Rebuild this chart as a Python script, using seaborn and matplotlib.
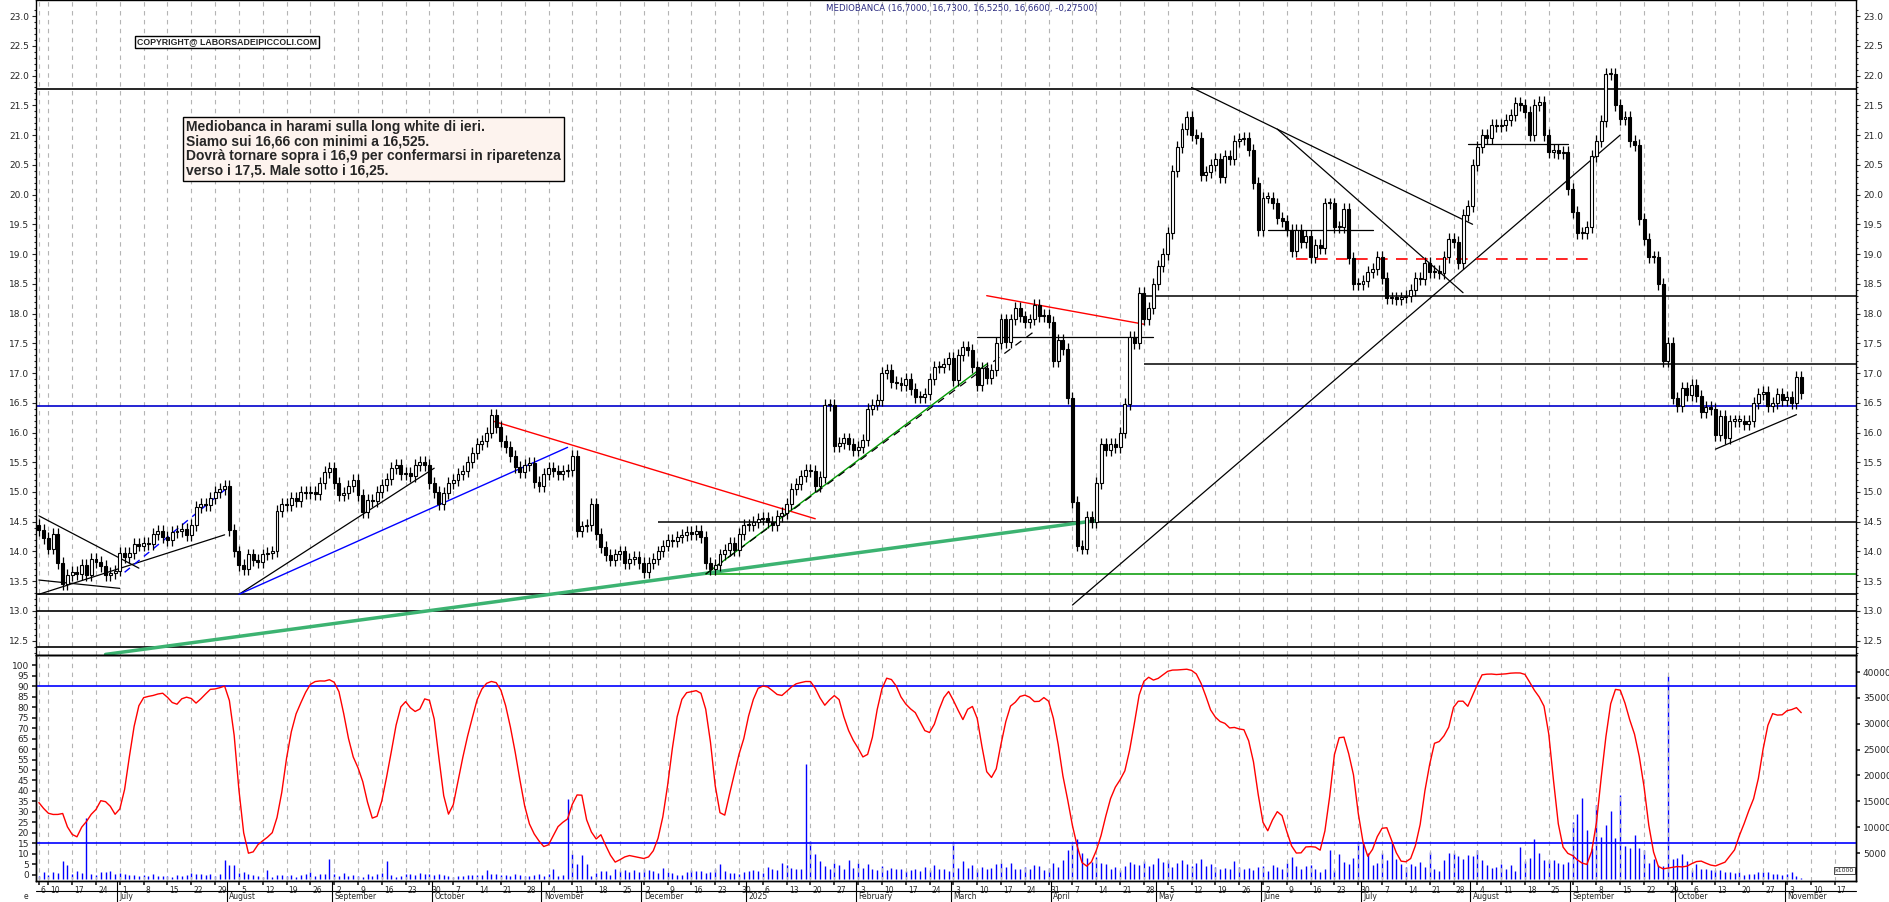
import numpy as np
import pandas as pd
import matplotlib
matplotlib.use("Agg")
import matplotlib.pyplot as plt
import matplotlib.transforms as mtrans
import seaborn as sns

sns.set_theme(style="white")
plt.rcParams["font.family"] = ["DejaVu Sans"]

# ---------------- data ----------------
start_date = "2024-06-06"
axis_end_date = "2025-11-21"

closes_2024 = [
    14.36,14.22,14.05,14.3,13.8,13.45,13.6,13.65,13.62,13.77,13.6,13.87,13.82,13.75,13.6,13.64,13.68,
    13.97,13.9,13.97,14.12,14.1,14.15,14.13,14.3,14.35,14.25,14.2,14.33,14.35,14.38,14.27,14.44,14.75,14.8,14.78,14.9,15.0,15.05,15.1,
    14.36,14.0,13.78,13.7,13.95,13.85,13.82,13.95,13.98,14.0,14.68,14.8,14.78,14.9,14.85,15.0,14.98,15.0,14.97,15.15,15.33,15.4,
    15.15,14.95,14.98,15.1,15.2,14.95,14.67,14.87,14.85,15.0,15.12,15.22,15.4,15.45,15.3,15.32,15.27,15.45,15.5,15.45,15.15,
    15.0,14.8,14.98,15.15,15.2,15.3,15.35,15.5,15.65,15.8,15.85,16.0,16.3,16.1,15.85,15.76,15.6,15.42,15.33,15.45,15.48,15.17,15.1,
    15.3,15.4,15.35,15.3,15.35,15.37,15.6,14.35,14.42,14.45,14.8,14.3,14.08,13.94,13.85,13.95,14.0,13.8,13.88,13.9,13.8,
    13.65,13.8,13.88,14.0,14.1,14.2,14.18,14.25,14.28,14.32,14.3,14.35,14.25,13.8,13.7,13.78,13.95,14.02,14.15,14.03,14.3,14.45,
]
closes_2025 = [
    14.45,14.5,14.55,14.57,14.5,14.45,14.6,14.65,14.8,15.05,15.14,15.27,15.37,15.35,15.1,15.25,16.46,16.47,15.77,15.82,15.9,15.8,15.7,
    15.75,15.87,16.4,16.47,16.55,17.0,17.05,16.85,16.83,16.8,16.9,16.73,16.6,16.6,16.65,16.9,17.1,17.1,17.15,17.25,
    16.88,17.3,17.43,17.38,17.1,16.8,17.08,16.92,17.05,17.5,17.9,17.52,17.9,18.1,17.95,17.85,17.9,18.15,17.95,17.97,17.85,
    17.2,17.55,17.4,16.58,14.83,14.1,14.05,14.58,14.5,15.15,15.8,15.7,15.8,15.75,16.0,16.48,17.6,17.5,18.35,17.9,18.1,18.5,
    18.8,19.0,19.35,20.4,20.8,21.1,21.3,21.0,20.95,20.33,20.38,20.5,20.6,20.3,20.65,20.6,20.9,20.93,20.95,20.75,20.2,19.4,
    19.95,19.95,19.85,19.6,19.55,19.4,19.05,19.4,19.2,19.3,18.95,19.15,19.1,19.85,19.85,19.45,19.45,19.75,18.93,18.5,18.5,
    18.55,18.7,18.75,18.95,18.6,18.26,18.26,18.25,18.27,18.3,18.4,18.6,18.58,18.85,18.7,18.72,18.68,18.95,19.25,19.2,18.85,19.65,19.8,
    20.5,20.8,21.0,20.95,21.17,21.15,21.17,21.25,21.33,21.54,21.5,21.38,21.0,21.5,21.55,21.0,20.72,20.75,20.7,20.72,20.1,
    19.7,19.35,19.35,19.45,20.65,20.9,21.24,22.02,22.02,21.5,21.27,21.3,20.9,20.83,19.59,19.25,18.95,18.95,18.5,17.2,17.5,16.58,
    16.45,16.75,16.63,16.8,16.62,16.35,16.43,16.4,15.95,16.28,15.9,16.2,16.2,16.2,16.15,16.2,16.5,16.65,16.68,16.45,16.5,16.65,16.55,
    16.6,16.5,16.93,16.66,
]
first_open = 14.45
wick = 0.1

volume_k = [
    0.6,1.4,0.7,1.4,1.2,3.5,2.7,1.0,1.5,1.1,11.8,0.9,0.8,1.4,1.3,1.5,1.0,
    1.1,0.9,0.7,0.8,0.6,0.7,0.5,0.9,0.6,0.5,0.5,0.4,0.7,0.6,0.8,1.2,0.9,1.0,0.8,0.9,0.5,1.0,3.6,
    2.6,2.7,1.2,1.3,0.9,0.8,0.5,0.4,1.8,0.4,0.7,0.8,0.6,0.8,0.3,0.7,0.9,1.4,0.6,0.9,1.0,3.9,
    1.0,0.6,1.2,0.6,0.8,0.5,0.4,0.9,0.6,0.9,1.1,3.4,0.8,0.4,0.6,0.9,1.0,0.8,1.1,1.0,0.9,
    0.8,0.9,0.7,0.5,0.4,0.6,0.5,0.8,0.8,0.7,0.8,1.8,1.0,0.9,0.8,0.8,0.6,0.9,0.8,0.6,0.5,0.8,0.9,
    0.6,0.9,2.0,0.6,0.7,15.4,4.9,2.9,4.7,2.9,0.5,1.2,1.6,1.6,0.8,1.9,1.5,1.8,1.4,1.7,1.3,
    1.9,1.7,1.6,1.2,2.1,1.4,1.1,0.8,0.8,1.4,1.8,1.6,1.6,1.1,1.3,2.0,2.8,1.5,1.2,1.1,0.9,1.4,
    1.6,1.8,1.5,1.2,2.3,2.0,1.8,3.0,2.6,2.2,1.9,2.0,22.3,7.3,4.9,3.5,2.5,2.0,3.0,2.6,2.0,3.6,2.2,
    3.0,2.2,2.8,2.0,1.8,2.5,1.7,2.2,1.9,2.0,1.6,1.7,2.0,1.5,2.4,1.8,2.6,1.9,2.0,1.5,
    7.0,2.2,3.4,2.1,2.6,1.9,2.3,2.0,2.2,2.9,3.0,2.3,3.1,2.0,1.9,2.3,2.0,2.6,2.5,1.8,2.1,
    3.0,2.4,3.6,5.5,6.8,7.8,5.0,4.0,3.2,4.3,3.0,2.8,2.0,2.4,1.8,2.5,3.3,2.8,2.6,3.4,2.5,2.9,
    4.0,3.3,3.7,2.3,3.0,3.6,2.8,2.5,3.0,3.9,2.5,2.8,2.4,2.0,2.2,2.0,3.5,2.4,2.0,2.2,1.8,2.4,
    2.5,1.6,2.6,2.4,2.0,3.0,4.2,2.5,2.0,2.5,2.6,2.0,1.3,2.0,5.5,1.7,4.8,3.2,2.9,4.0,7.0,
    6.9,5.1,2.7,3.0,5.0,3.6,6.9,3.9,2.9,2.4,2.9,2.5,3.2,2.4,5.3,2.0,1.5,3.7,5.1,5.0,4.5,3.9,4.6,
    4.5,5.5,3.6,2.7,2.1,2.4,2.8,1.9,2.6,1.5,6.1,3.5,4.0,7.8,5.0,3.6,3.6,3.6,3.0,2.8,3.2,
    11.0,12.5,15.6,9.5,6.0,14.3,8.2,10.5,13.1,8.0,16.3,6.3,5.9,8.5,6.0,5.6,3.0,3.8,2.6,2.5,39.3,3.9,
    4.0,4.8,3.4,1.7,2.9,1.9,1.9,1.7,1.7,1.8,1.3,1.3,1.1,1.3,0.7,1.0,1.0,1.3,1.4,1.4,1.0,1.0,0.8,
    1.0,1.3,0.6,0.2,
]

full_hlines = [(21.78, "black"), (16.45, "#0000cc"), (13.28, "black"), (13.0, "black"), (12.4, "black")]
partial_hlines = [  # (start date, price, color, style)
    ("2025-04-28", 18.3, "black", "-"),
    ("2025-04-28", 17.15, "black", "-"),
    ("2024-12-05", 14.5, "black", "-"),
    ("2024-12-16", 13.62, "#009900", "-"),
]
trendlines = [  # d1, p1, d2, p2, color, lw, ls
    ("2024-06-06", 14.6, "2024-07-05", 13.72, "black", 0.9, "-"),
    ("2024-06-06", 13.52, "2024-07-01", 13.38, "black", 0.9, "-"),
    ("2024-06-06", 13.28, "2024-07-31", 14.28, "black", 0.9, "-"),
    ("2024-07-02", 13.65, "2024-08-01", 15.1, "#0000ff", 1.0, (0, (5, 4))),
    ("2024-08-05", 13.28, "2024-10-01", 15.4, "black", 0.9, "-"),
    ("2024-08-05", 13.28, "2024-11-08", 15.75, "#0000ff", 1.0, "-"),
    ("2024-10-17", 16.2, "2025-01-21", 14.55, "red", 1.0, "-"),
    ("2024-06-26", 12.27, "2025-04-14", 14.52, "#3cb371", 2.5, "-"),
    ("2024-12-19", 13.62, "2025-03-12", 17.15, "#009900", 1.0, "-"),
    ("2024-12-19", 13.62, "2025-03-26", 17.7, "black", 0.9, (0, (6, 5))),
    ("2025-03-10", 17.6, "2025-04-30", 17.6, "black", 0.9, "-"),
    ("2025-03-12", 18.3, "2025-04-28", 17.82, "red", 1.0, "-"),
    ("2025-04-07", 13.1, "2025-09-15", 21.0, "black", 0.9, "-"),
    ("2025-05-12", 21.8, "2025-08-01", 19.5, "black", 0.9, "-"),
    ("2025-06-05", 21.1, "2025-07-30", 18.35, "black", 0.9, "-"),
    ("2025-06-03", 19.4, "2025-07-03", 19.4, "black", 0.9, "-"),
    ("2025-06-11", 18.92, "2025-09-05", 18.92, "red", 1.2, (0, (7, 5))),
    ("2025-07-31", 20.85, "2025-08-29", 20.85, "black", 0.9, "-"),
    ("2025-10-13", 15.72, "2025-11-05", 16.3, "black", 0.9, "-"),
]
title_text = "MEDIOBANCA (16,7000, 16,7300, 16,5250, 16,6600, -0,27500)"
note_text = ("Mediobanca in harami sulla long white di ieri.\n"
             "Siamo sui 16,66 con minimi a 16,525.\n"
             "Dovrà tornare sopra i 16,9 per confermarsi in riparetenza\n"
             "verso i 17,5. Male sotto i 16,25.")
copyright_text = "COPYRIGHT@ LABORSADEIPICCOLI.COM"
month_names = ["January", "February", "March", "April", "May", "June", "July",
               "August", "September", "October", "November", "December"]

# ---------------- prep ----------------
closes = np.array(closes_2024 + closes_2025)
n = len(closes)
opens = np.concatenate([[first_open], closes[:-1]])
highs = np.maximum(opens, closes) + wick
lows = np.minimum(opens, closes) - wick
all_dates = pd.bdate_range(start_date, axis_end_date)
xs = np.arange(n)
vol = np.array(volume_k[:n]) * 1000.0

def ix(d):
    return int(all_dates.searchsorted(pd.Timestamp(d)))

# slow stochastic oscillator from the candles
s_c = pd.Series(closes); s_h = pd.Series(highs); s_l = pd.Series(lows)
hh = s_h.rolling(14, min_periods=1).max(); ll = s_l.rolling(14, min_periods=1).min()
k_fast = 100 * (s_c - ll) / (hh - ll)
stoch = k_fast.rolling(3, min_periods=1).mean().rolling(3, min_periods=1).mean()

# ---------------- figure ----------------
W, H = 1890, 902
fig = plt.figure(figsize=(W / 100, H / 100), dpi=100)
fig.patch.set_facecolor("white")
L, R = 36 / W, 1856 / W
ax = fig.add_axes([L, 1 - 655 / H, R - L, 655 / H])
ax2 = fig.add_axes([L, 1 - 881 / H, R - L, (881 - 655) / H], sharex=ax)
axv = ax2.twinx()

xmin, xmax = -0.6, len(all_dates) - 0.5
ax.set_xlim(xmin, xmax)
ax.set_ylim(12.26, 23.27)
ax2.set_ylim(-2.9, 104.8)
axv.set_ylim(-400, 43300)

# weekly ticks & grid
week_ix = [i for i in range(len(all_dates)) if i == 0 or all_dates[i].weekday() < all_dates[i - 1].weekday()]
for a in (ax, ax2):
    for i in week_ix:
        a.axvline(i, color="#b4b4b4", lw=0.8, ls=(0, (4, 4)), zorder=0)

# horizontal lines
for p, c in full_hlines:
    ax.axhline(p, color=c, lw=1.2, zorder=1)
for d, p, c, ls in partial_hlines:
    ax.hlines(p, ix(d), xmax, color=c, lw=1.1, ls=ls, zorder=1)
for d1, p1, d2, p2, c, lw, ls in trendlines:
    ax.plot([ix(d1), ix(d2)], [p1, p2], color=c, lw=lw, ls=ls, zorder=2)

# candles
ax.vlines(xs, lows, highs, color="black", lw=0.9, zorder=3)
up = closes >= opens
body_lo = np.minimum(opens, closes)
body_h = np.maximum(np.abs(closes - opens), 0.02)
ax.bar(xs, body_h, bottom=body_lo, width=0.62, color=np.where(up, "white", "black"),
       edgecolor="black", linewidth=0.8, zorder=4)

# lower panel
axv.vlines(xs, 0, vol, color="#0000ff", lw=1.0, zorder=2)
sns.lineplot(x=xs, y=stoch.values, color="red", lw=1.0, ax=ax2, zorder=3)
ax2.axhline(90, color="#0000ff", lw=1.2)
ax2.axhline(15, color="#0000ff", lw=1.2)
ax2.set_zorder(axv.get_zorder() + 1)
ax2.patch.set_visible(False)

# ticks
ax.set_yticks(np.arange(12.5, 23.01, 0.5))
ax.set_yticks(np.arange(12.3, 23.2, 0.1), minor=True)
ax.yaxis.set_major_formatter(matplotlib.ticker.FormatStrFormatter("%.1f"))
ax.tick_params(axis="y", which="both", left=True, right=True, labelleft=True, labelright=True,
               direction="out", labelsize=6.5, length=3, width=0.8, pad=2)
ax.tick_params(axis="y", which="minor", length=1.5)
ax.tick_params(axis="x", bottom=False, labelbottom=False)
ax2.set_yticks(np.arange(0, 101, 5))
ax2.tick_params(axis="y", left=True, direction="out", labelsize=6.5, length=3, pad=2)
axv.set_yticks(np.arange(5000, 40001, 5000))
axv.tick_params(axis="y", right=True, direction="out", labelsize=6.5, length=3, pad=2)
ax2.set_xticks(week_ix)
ax2.set_xticklabels([str(all_dates[i].day) for i in week_ix], fontsize=5.5, ha="left")
ax2.tick_params(axis="x", bottom=True, direction="out", length=3, pad=0.5)
for lab in ax2.get_xticklabels():
    lab.set_transform(lab.get_transform() + mtrans.ScaledTranslation(1.5 / 72, 0, fig.dpi_scale_trans))
for a in (ax, ax2, axv):
    for s in a.spines.values():
        s.set_color("black"); s.set_linewidth(1.0)
    a.grid(False)
ax2.set_ylabel(""); axv.set_ylabel("")

# month row
trans = mtrans.blended_transform_factory(ax2.transData, ax2.transAxes)
ax2.plot([xmin, xmax], [-0.046, -0.046], transform=trans, color="black", lw=0.8, clip_on=False)
month_ix = [i for i in range(len(all_dates)) if i == 0 or all_dates[i].month != all_dates[i - 1].month]
for i in month_ix[1:]:
    d = all_dates[i]
    ax2.plot([i - 0.5, i - 0.5], [0, -0.092], transform=trans, color="black", lw=0.8, clip_on=False)
    label = str(d.year) if d.month == 1 else month_names[d.month - 1]
    ax2.text(i, -0.05, label, transform=trans, fontsize=5.5, va="top", ha="left")
ax2.text(xmin - 2.5, -0.05, "e", transform=trans, fontsize=5.5, va="top", ha="left")
axv.text(0.999, 0.035, "x1000", transform=axv.transAxes, fontsize=4.5, ha="right", va="bottom",
         bbox=dict(boxstyle="square,pad=0.15", fc="white", ec="black", lw=0.5))

# texts
fig.text(826 / W, 1 - 8 / H, title_text, fontsize=6.2, color="#2b2b80", va="center", ha="left")
fig.text(137 / W, 1 - 42 / H, copyright_text, fontsize=6.3, fontweight="bold", va="center", ha="left",
         family="Liberation Sans",
         bbox=dict(boxstyle="square,pad=0.2", fc="white", ec="black", lw=1.0))
fig.text(186 / W, 1 - 120 / H, note_text, fontsize=10, fontweight="bold", va="top", ha="left",
         family="Liberation Sans", linespacing=1.05,
         bbox=dict(boxstyle="square,pad=0.25", fc="#fdf3ee", ec="black", lw=1.0))

fig.savefig("out.png", dpi=100)
